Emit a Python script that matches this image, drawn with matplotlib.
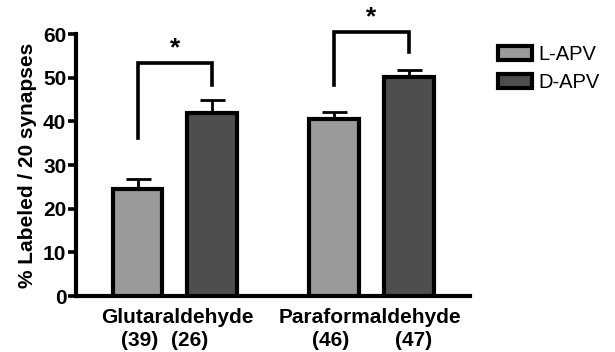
import matplotlib.pyplot as plt
import numpy as np

plt.rcParams["font.family"] = ["Liberation Sans", "DejaVu Sans"]

# Data
groups = ["Glutaraldehyde", "Paraformaldehyde"]
series = ["L-APV", "D-APV"]
l_apv = [24.5, 40.5]
d_apv = [41.9, 50.1]
l_err = [2.3, 1.6]
d_err = [3.0, 1.6]
n_labels = [["(39)", "(26)"], ["(46)", "(47)"]]
# bracket heights: [top, left leg bottom, right leg bottom]
brackets = [[53.3, 36.2, 48.3], [60.4, 48.3, 55.9]]

colors = ["#9a9a9a", "#4e4e4e"]
centers = np.array([0.5, 3.14])
width = 0.67

fig = plt.figure(figsize=(6.15, 3.52), dpi=100)
ax = fig.add_axes([0.1236, 0.159, 0.6406, 0.744])

xl = centers - 0.5
xd = centers + 0.5
for xs, vals, errs, c, lab in [(xl, l_apv, l_err, colors[0], series[0]),
                               (xd, d_apv, d_err, colors[1], series[1])]:
    ax.bar(xs, vals, width=width, color=c, edgecolor="black", linewidth=3,
           label=lab, zorder=3)
    ax.errorbar(xs, vals, yerr=[np.zeros(len(errs)), errs], fmt="none",
                ecolor="black", elinewidth=2, capsize=9, capthick=2, zorder=2)

# significance brackets
for i, (top, lb, rb) in enumerate(brackets):
    ax.plot([xl[i], xl[i], xd[i], xd[i]], [lb, top, top, rb], color="black",
            lw=2.6, clip_on=False, solid_joinstyle="miter")
    ax.text(centers[i], top + 0.6, "*", ha="center", va="bottom",
            fontsize=19, fontweight="bold", clip_on=False)

ax.set_xlim(-0.826, 4.463)
ax.set_ylim(0, 60)
ax.set_yticks(np.arange(0, 61, 10))
ax.set_xticks([])
for s in ["top", "right"]:
    ax.spines[s].set_visible(False)
for s in ["left", "bottom"]:
    ax.spines[s].set_linewidth(3)
ax.tick_params(axis="y", width=2.6, length=6, labelsize=15, pad=1)
for t in ax.get_yticklabels():
    t.set_fontweight("bold")
ax.set_ylabel("% Labeled / 20 synapses", fontsize=15, fontweight="bold", labelpad=4)

# group labels and n counts
trans = ax.get_xaxis_transform()
for i, g in enumerate(groups):
    ax.text(centers[i] + 0.03 * (1 if i == 0 else -0.5), -0.082, g, transform=trans,
            ha="center", va="center", fontsize=15, fontweight="bold")
n_x = [[0.03, 0.7], [2.59, 3.71]]
for i in range(2):
    for j in range(2):
        ax.text(n_x[i][j], -0.17, n_labels[i][j], transform=trans,
                ha="center", va="center", fontsize=15, fontweight="bold")

leg = ax.legend(loc="upper left", bbox_to_anchor=(1.05, 0.99), frameon=False,
                fontsize=14.5, handlelength=1.7, handleheight=0.7,
                handletextpad=0.3, labelspacing=0.45, borderaxespad=0)

fig.savefig("out.png", dpi=100)
